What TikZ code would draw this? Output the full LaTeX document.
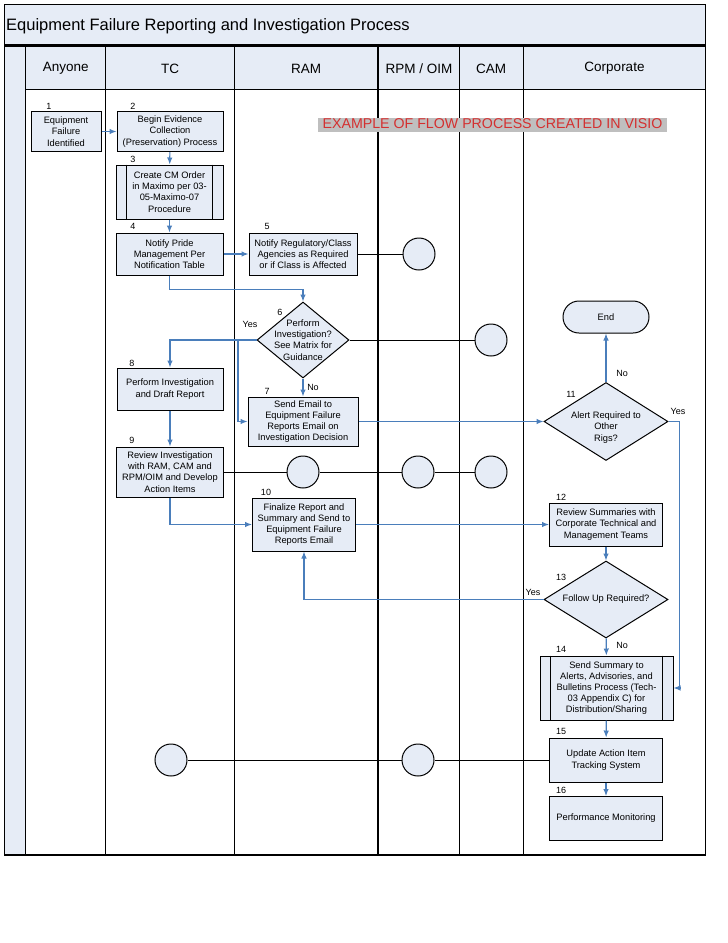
\documentclass[tikz,border=0pt]{standalone}
\usepackage{fontspec}
\setmainfont{Liberation Sans}
\usetikzlibrary{positioning,shapes.geometric,arrows.meta}
\definecolor{laneblue}{HTML}{E6ECF6}
\definecolor{flowblue}{HTML}{4A7EBB}
\definecolor{visiored}{HTML}{D43030}
\tikzset{
  proc/.style={draw, line width=1pt, fill=laneblue, rectangle, align=center, inner sep=1pt, font=\fontsize{9.3}{11.2}\selectfont},
  decision/.style={draw, line width=1pt, fill=laneblue, diamond, inner sep=0pt},
  txt/.style={align=center, inner sep=0pt, font=\fontsize{9.3}{11.2}\selectfont},
  conn/.style={draw, line width=1pt, fill=laneblue, circle, minimum size=32, inner sep=0pt},
  num/.style={inner sep=0.5pt, font=\fontsize{9}{10}\selectfont},
  head/.style={font=\fontsize{13.5}{15}\selectfont},
  flow/.style={draw=flowblue, line width=1.1pt, -{Latex[length=7pt,width=5.5pt]}},
  link/.style={draw, line width=1pt}
}

\begin{document}
\begin{tikzpicture}[x=1pt, y=-1pt]
\useasboundingbox (0,0) rectangle (728,943);
% lanes
\fill[laneblue] (4.5,4.5) rectangle (705.5,89.5);
\fill[laneblue] (4.5,89.5) rectangle (25.7,855);
\draw[line width=1.3pt] (4.5,4.5) rectangle (705.5,855);
\draw[line width=2.2pt] (4.5,45.5) -- (705.5,45.5);
\draw[line width=1.3pt] (25.7,89.5) -- (705.5,89.5);
\foreach \xl in {25.7, 105.7, 234.5, 378, 459.5, 523.3}
  \draw[line width=1.3pt] (\xl,45.5) -- (\xl,855);
\node[anchor=west, inner sep=0pt, font=\fontsize{16.5}{18}\selectfont] (title) at (6,26) {Equipment Failure Reporting and Investigation Process};
\node[head] (hAnyone) at (65.7,68.5) {Anyone};
\node[head] (hTC) at (170,68.5) {TC};
\node[head] (hRAM) at (306,68.5) {RAM};
\node[head] (hRPM) at (419,68.5) {RPM / OIM};
\node[head] (hCAM) at (491,68.5) {CAM};
\node[head] (hCorp) at (614.5,68.5) {Corporate};
\node[fill=black!25, text=visiored, inner xsep=4.5pt, inner ysep=0pt, text height=10.5pt, text depth=3pt, font=\fontsize{14.2}{16}\selectfont] (note) at (492.5,125) {EXAMPLE OF FLOW PROCESS CREATED IN VISIO};

% steps
\node[proc, minimum width=70, minimum height=40] (b1) at (66,131.5) {Equipment\\Failure\\Identified};
\node[proc, minimum width=106, minimum height=40] (b2) at (170,131.5) {Begin Evidence\\Collection\\(Preservation) Process};
\node[proc, minimum width=107, minimum height=54] (b3) at (169.5,192) {Create CM Order\\in Maximo per 03-\\05-Maximo-07\\Procedure};
\draw[line width=1pt] ([xshift=11]b3.north west) -- ([xshift=11]b3.south west);
\draw[line width=1pt] ([xshift=-11]b3.north east) -- ([xshift=-11]b3.south east);
\node[proc, minimum width=107, minimum height=42] (b4) at (169.5,254) {Notify Pride\\Management Per\\Notification Table};
\node[proc, minimum width=108, minimum height=42] (b5) at (303,254) {Notify Regulatory/Class\\Agencies as Required\\or if Class is Affected};
\node[conn] (c5) at (419,254) {};
\node[decision, minimum width=92, minimum height=76] (d6) at (303,340) {};
\node[txt] (t6) at (d6) {Perform\\Investigation?\\See Matrix for\\Guidance};
\node[conn] (c6) at (491,340) {};
\node[proc, minimum width=110, minimum height=49] (b7) at (303,421.5) {Send Email to\\Equipment Failure\\Reports Email on\\Investigation Decision};
\node[proc, minimum width=106, minimum height=42] (b8) at (170,389) {Perform Investigation\\and Draft Report};
\node[proc, minimum width=107, minimum height=50] (b9) at (170,472) {Review Investigation\\with RAM, CAM and\\RPM/OIM and Develop\\Action Items};
\node[conn] (c9a) at (303,472) {};
\node[conn] (c9b) at (418,472) {};
\node[conn] (c9c) at (491,472) {};
\node[proc, minimum width=103, minimum height=53] (b10) at (304,524.5) {Finalize Report and\\Summary and Send to\\Equipment Failure\\Reports Email};
\node[decision, minimum width=124, minimum height=78] (d11) at (606,421.5) {};
\node[txt] (t11) at ([yshift=-6]d11) {Alert Required to\\Other\\Rigs?};
\node[draw, line width=1pt, fill=laneblue, rounded corners=16, minimum width=86, minimum height=32, font=\fontsize{9.3}{11.2}\selectfont] (end) at (606,317) {End};
\node[proc, minimum width=113, minimum height=43] (b12) at (606,524.5) {Review Summaries with\\Corporate Technical and\\Management Teams};
\node[decision, minimum width=124, minimum height=77] (d13) at (606,599.5) {};
\node[txt] (t13) at (d13) {Follow Up Required?};
\node[proc, minimum width=133, minimum height=64] (b14) at (606.5,688) {Send Summary to\\Alerts, Advisories, and\\Bulletins Process (Tech-\\03 Appendix C) for\\Distribution/Sharing};
\draw[line width=1pt] ([xshift=11]b14.north west) -- ([xshift=11]b14.south west);
\draw[line width=1pt] ([xshift=-11]b14.north east) -- ([xshift=-11]b14.south east);
\node[proc, minimum width=113, minimum height=44] (b15) at (606,760) {Update Action Item\\Tracking System};
\node[conn] (c15a) at (418,760) {};
\node[conn] (c15b) at (171,760) {};
\node[proc, minimum width=113, minimum height=44] (b16) at (606,818.5) {Performance Monitoring};

% step numbers
\node[num] (n1) at (49,106) {1};
\node[num] (n2) at (133,106) {2};
\node[num] (n3) at (133,159) {3};
\node[num] (n4) at (133,226) {4};
\node[num] (n5) at (267,226) {5};
\node[num] (n6) at (280,312) {6};
\node[num] (n7) at (267,391) {7};
\node[num] (n8) at (132,363) {8};
\node[num] (n9) at (132,440) {9};
\node[num] (n10) at (266,492) {10};
\node[num] (n11) at (571,394) {11};
\node[num] (n12) at (561,497) {12};
\node[num] (n13) at (561,577) {13};
\node[num] (n14) at (561,649) {14};
\node[num] (n15) at (561,731) {15};
\node[num] (n16) at (561,790) {16};

% connectors
\coordinate (j6) at (238,340);
\draw[flow] (b1) -- (b2);
\draw[flow] (b2) -- (b3);
\draw[flow] (b3) -- (b4);
\draw[flow] (b4.east) -- (b5.west);
\draw[link] (b5.east) -- (c5.west);
\draw[flow] (b4.south) -- ++(0,14) -| (d6.north);
\draw[flow] (d6.west) -| (b8.north);
\draw[flow] (j6) |- (b7.west);
\draw[flow] (d6.south) -- (b7.north);
\draw[link] (d6.east) -- (c6.west);
\draw[flow] (b7.east) -- (d11.west);
\draw[flow] (b8) -- (b9);
\draw[link] (b9.east) -- (c9a.west) (c9a.east) -- (c9b.west) (c9b.east) -- (c9c.west);
\draw[flow] (b9.south) |- (b10.west);
\draw[flow] (b10.east) -- (b12.west);
\draw[flow] (d11.north) -- (end.south);
\draw[flow] (d11.east) -- ++(11,0) |- (b14.east);
\draw[flow] (b12) -- (d13);
\draw[flow] (d13.west) -| (b10.south);
\draw[flow] (d13) -- (b14);
\draw[flow] (b14) -- (b15);
\draw[link] (b15.west) -- (c15a.east) (c15a.west) -- (c15b.east);
\draw[flow] (b15) -- (b16);

% branch labels
\node[num] (yes6) at (250,324) {Yes};
\node[num] (no6) at (313,387) {No};
\node[num] (no11) at (622,373) {No};
\node[num] (yes11) at (678,411) {Yes};
\node[num] (yes13) at (533,592) {Yes};
\node[num] (no13) at (622,645) {No};
\end{tikzpicture}
\end{document}
